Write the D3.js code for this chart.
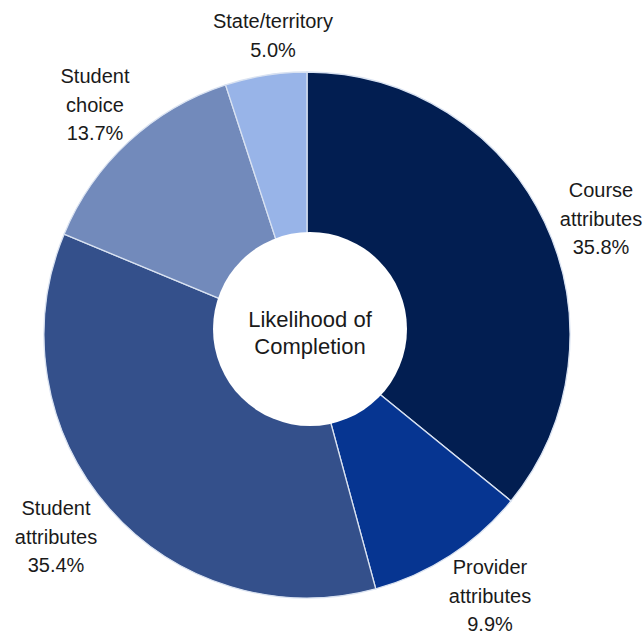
<!DOCTYPE html>
<html lang="en">
<head>
    <meta charset="UTF-8">
    <title>Likelihood of Completion</title>
    <script src="https://cdn.jsdelivr.net/npm/d3@7"></script>
    <style>
        body {
            margin: 0;
            background-color: #ffffff;
        }

        svg {
            display: block;
        }

        text {
            font-family: 'Liberation Sans', Arial, sans-serif;
            fill: #1a1a1a;
        }
    </style>
</head>
<body>
    <svg id="chart" width="644" height="635"></svg>

    <script>
        // shares of the driver groups, clockwise from 12 o'clock
        const categories = ["Course attributes", "Provider attributes", "Student attributes", "Student choice", "State/territory"];
        const shares = [35.8, 9.9, 35.4, 13.7, 5.0];
        const colors = ["#021e51", "#063591", "#34508b", "#728abb", "#98b4e8"];
        const centreLabel = ["Likelihood of", "Completion"];

        // label lines and where each label block sits (centre x, first line y)
        const labelLines = [
            ["Course", "attributes", "35.8%"],
            ["Provider", "attributes", "9.9%"],
            ["Student", "attributes", "35.4%"],
            ["Student", "choice", "13.7%"],
            ["State/territory", "5.0%"]
        ];
        const labelPos = [[601, 197], [490, 574], [56, 515], [95, 83], [273, 28]];

        const width = 644;
        const height = 635;
        const cx = 307, cy = 335;
        const outerR = 263;
        const lineGap = 28.5;

        const svg = d3.select("#chart")
            .attr("viewBox", [0, 0, width, height]);

        const data = categories.map((c, i) => ({ name: c, value: shares[i], color: colors[i] }));

        const pie = d3.pie()
            .value(d => d.value)
            .sort(null);

        const arc = d3.arc()
            .innerRadius(0)
            .outerRadius(outerR);

        const g = svg.append("g")
            .attr("transform", `translate(${cx},${cy})`);

        g.selectAll("path")
            .data(pie(data))
            .join("path")
            .attr("d", arc)
            .attr("fill", d => d.data.color)
            .attr("stroke", "#d9e2f1")
            .attr("stroke-width", 1.3);

        // white hole, drawn a touch off the pie centre like the original
        svg.append("circle")
            .attr("cx", cx + 3)
            .attr("cy", cy - 6)
            .attr("r", 97)
            .attr("fill", "#ffffff");

        svg.append("text")
            .attr("x", cx + 3)
            .attr("y", cy - 8)
            .attr("text-anchor", "middle")
            .attr("font-size", "22px")
            .selectAll("tspan")
            .data(centreLabel)
            .join("tspan")
            .attr("x", cx + 3)
            .attr("dy", (d, i) => i === 0 ? 0 : 27)
            .text(d => d);

        // outside labels
        svg.append("g")
            .selectAll("text")
            .data(labelLines)
            .join("text")
            .attr("x", (d, i) => labelPos[i][0])
            .attr("y", (d, i) => labelPos[i][1])
            .attr("text-anchor", "middle")
            .attr("font-size", "20px")
            .each(function(lines, i) {
                d3.select(this).selectAll("tspan")
                    .data(lines)
                    .join("tspan")
                    .attr("x", labelPos[i][0])
                    .attr("dy", (d, j) => j === 0 ? 0 : lineGap)
                    .text(d => d);
            });
    </script>
</body>
</html>
